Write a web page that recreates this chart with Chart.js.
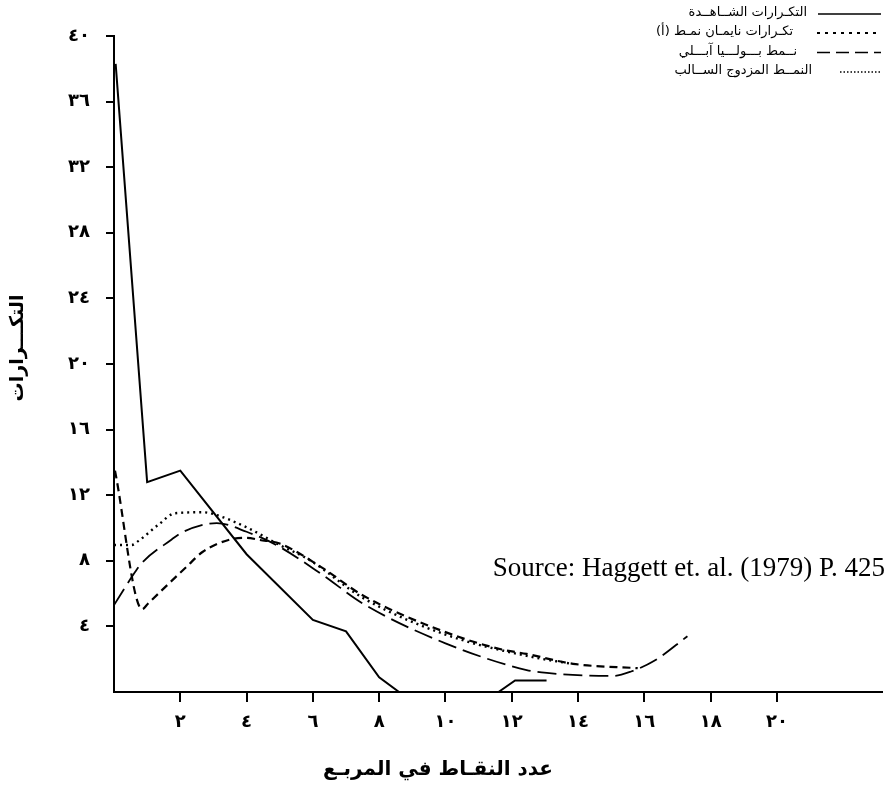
<!DOCTYPE html>
<html lang="ar">
<head>
  <meta charset="UTF-8">
  <title>التكرارات</title>
  <script src="https://cdn.jsdelivr.net/npm/chart.js"></script>
  <style>
    body {
      margin: 0;
      background: #fff;
      overflow: hidden;
    }
  </style>
</head>
<body>
  <canvas id="chart" width="889" height="798"></canvas>

  <script>
    // observed frequencies (solid)
    const obsX = [0.05, 1, 2, 4, 6, 7, 8, 8.6, 11.6, 12.1, 13.05];
    const obsY = [38.3, 12.8, 13.5, 8.4, 4.4, 3.7, 0.9, 0, 0, 0.7, 0.7];

    // Neyman type A (short dashes)
    const neyX = [0.03, 0.85, 1.03, 2.19, 2.68, 3.5, 4.0, 4.4, 5, 6.3, 7.5, 10, 11.64, 12.45, 13.85, 15.8];
    const neyY = [13.5, 5.05, 5.4, 7.64, 8.55, 9.3, 9.4, 9.27, 9.05, 7.55, 5.9, 3.65, 2.62, 2.32, 1.72, 1.45];

    // Polya-Aeppli (long dashes)
    const polX = [0, 0.63, 0.83, 1.74, 2.0, 2.69, 3.1, 4.0, 4.9, 6.3, 7.5, 10, 12.45, 13.06, 15.05, 15.6, 16.3, 17.3];
    const polY = [5.3, 7.3, 7.85, 9.3, 9.67, 10.2, 10.3, 9.77, 8.96, 7.13, 5.4, 2.97, 1.34, 1.16, 0.98, 1.25, 1.9, 3.4];

    // negative binomial (dots)
    const negX = [0, 0.53, 0.73, 1.34, 1.84, 2.69, 3.0, 4.0, 5.0, 5.9, 7.5, 10, 12.45, 13.8];
    const negY = [8.96, 8.96, 9.2, 10.2, 10.9, 10.96, 10.85, 10.04, 8.96, 8.05, 5.75, 3.5, 2.2, 1.72];

    const xTicks = [2, 4, 6, 8, 10, 12, 14, 16, 18, 20];
    const xTickLabels = ['٢', '٤', '٦', '٨', '١٠', '١٢', '١٤', '١٦', '١٨', '٢٠'];
    const yTicks = [4, 8, 12, 16, 20, 24, 28, 32, 36, 40];
    const yTickLabels = ['٤', '٨', '١٢', '١٦', '٢٠', '٢٤', '٢٨', '٣٢', '٣٦', '٤٠'];

    const seriesNames = [
      'التكـرارات الشــاهــدة',
      'تكـرارات نايمـان نمـط (أ)',
      'نــمط بـــولـــيا آبـــلي',
      'النمــط المزدوج الســالب'
    ];

    const xTitle = 'عدد النقـاط في المربـع';
    const yTitle = 'التكـــرارات';
    const sourceText = 'Source: Haggett et. al. (1979) P. 425';

    function pts(xs, ys) {
      return xs.map((x, i) => ({ x: x, y: ys[i] }));
    }

    // legend, axis titles and source note
    const notes = {
      id: 'notes',
      afterDraw(chart) {
        const ctx = chart.ctx;
        ctx.save();
        ctx.fillStyle = '#000';
        ctx.strokeStyle = '#000';

        const rows = [
          { y: 14, dash: [], w: 1.6, x0: 818 },
          { y: 33, dash: [3, 5], w: 1.8, x0: 817 },
          { y: 52.5, dash: [13, 6], w: 1.6, x0: 817 },
          { y: 72, dash: [1.5, 2], w: 1.4, x0: 840 }
        ];
        const textRight = [807, 793, 797, 812];
        ctx.font = '13px "DejaVu Sans"';
        ctx.textAlign = 'right';
        ctx.textBaseline = 'middle';
        rows.forEach((r, i) => {
          ctx.beginPath();
          ctx.setLineDash(r.dash);
          ctx.lineWidth = r.w;
          ctx.moveTo(r.x0, r.y);
          ctx.lineTo(881, r.y);
          ctx.stroke();
          ctx.fillText(seriesNames[i], textRight[i], r.y - 1);
        });
        ctx.setLineDash([]);

        // x title
        ctx.textAlign = 'center';
        ctx.font = 'bold 20px "DejaVu Sans"';
        ctx.fillText(xTitle, 438, 770);

        // y title
        ctx.save();
        ctx.translate(18, 348);
        ctx.rotate(-Math.PI / 2);
        ctx.font = 'bold 19px "DejaVu Sans"';
        ctx.fillText(yTitle, 0, 0);
        ctx.restore();

        // source
        ctx.textAlign = 'right';
        ctx.textBaseline = 'alphabetic';
        ctx.font = '27px "Liberation Serif"';
        ctx.fillText(sourceText, 885, 576);
        ctx.restore();
      }
    };

    const line = { borderColor: '#000', backgroundColor: '#000', pointRadius: 0, fill: false };

    new Chart(document.getElementById('chart'), {
      type: 'line',
      data: {
        datasets: [
          Object.assign({ label: seriesNames[0], data: pts(obsX, obsY), borderWidth: 2, tension: 0 }, line),
          Object.assign({ label: seriesNames[1], data: pts(neyX, neyY), borderWidth: 2.2, borderDash: [8, 5], cubicInterpolationMode: 'monotone' }, line),
          Object.assign({ label: seriesNames[2], data: pts(polX, polY), borderWidth: 1.8, borderDash: [19, 7], cubicInterpolationMode: 'monotone' }, line),
          Object.assign({ label: seriesNames[3], data: pts(negX, negY), borderWidth: 2.4, borderDash: [2, 4], cubicInterpolationMode: 'monotone' }, line)
        ]
      },
      options: {
        responsive: false,
        animation: false,
        devicePixelRatio: 1,
        layout: { padding: { top: 36, right: 7, bottom: 0, left: 0 } },
        plugins: {
          legend: { display: false },
          tooltip: { enabled: false }
        },
        scales: {
          x: {
            type: 'linear',
            min: 0,
            max: 23.17,
            afterFit: axis => { axis.height = 106; },
            afterBuildTicks: axis => { axis.ticks = xTicks.map(v => ({ value: v })); },
            ticks: {
              autoSkip: false,
              maxRotation: 0,
              padding: 10,
              color: '#000',
              font: { family: 'DejaVu Sans', size: 18, weight: 'bold' },
              callback: (v) => xTickLabels[xTicks.indexOf(v)]
            },
            grid: { drawOnChartArea: false, drawTicks: true, tickLength: 10, color: '#000', lineWidth: 2 },
            border: { display: true, color: '#000', width: 2 }
          },
          y: {
            min: 0,
            max: 40,
            afterFit: axis => { axis.width = 114; },
            afterBuildTicks: axis => { axis.ticks = yTicks.map(v => ({ value: v })); },
            ticks: {
              autoSkip: false,
              padding: 16,
              color: '#000',
              font: { family: 'DejaVu Sans', size: 18, weight: 'bold' },
              callback: (v) => yTickLabels[yTicks.indexOf(v)]
            },
            grid: { drawOnChartArea: false, drawTicks: true, tickLength: 8, color: '#000', lineWidth: 2 },
            border: { display: true, color: '#000', width: 2 }
          }
        }
      },
      plugins: [notes]
    });
  </script>
</body>
</html>
